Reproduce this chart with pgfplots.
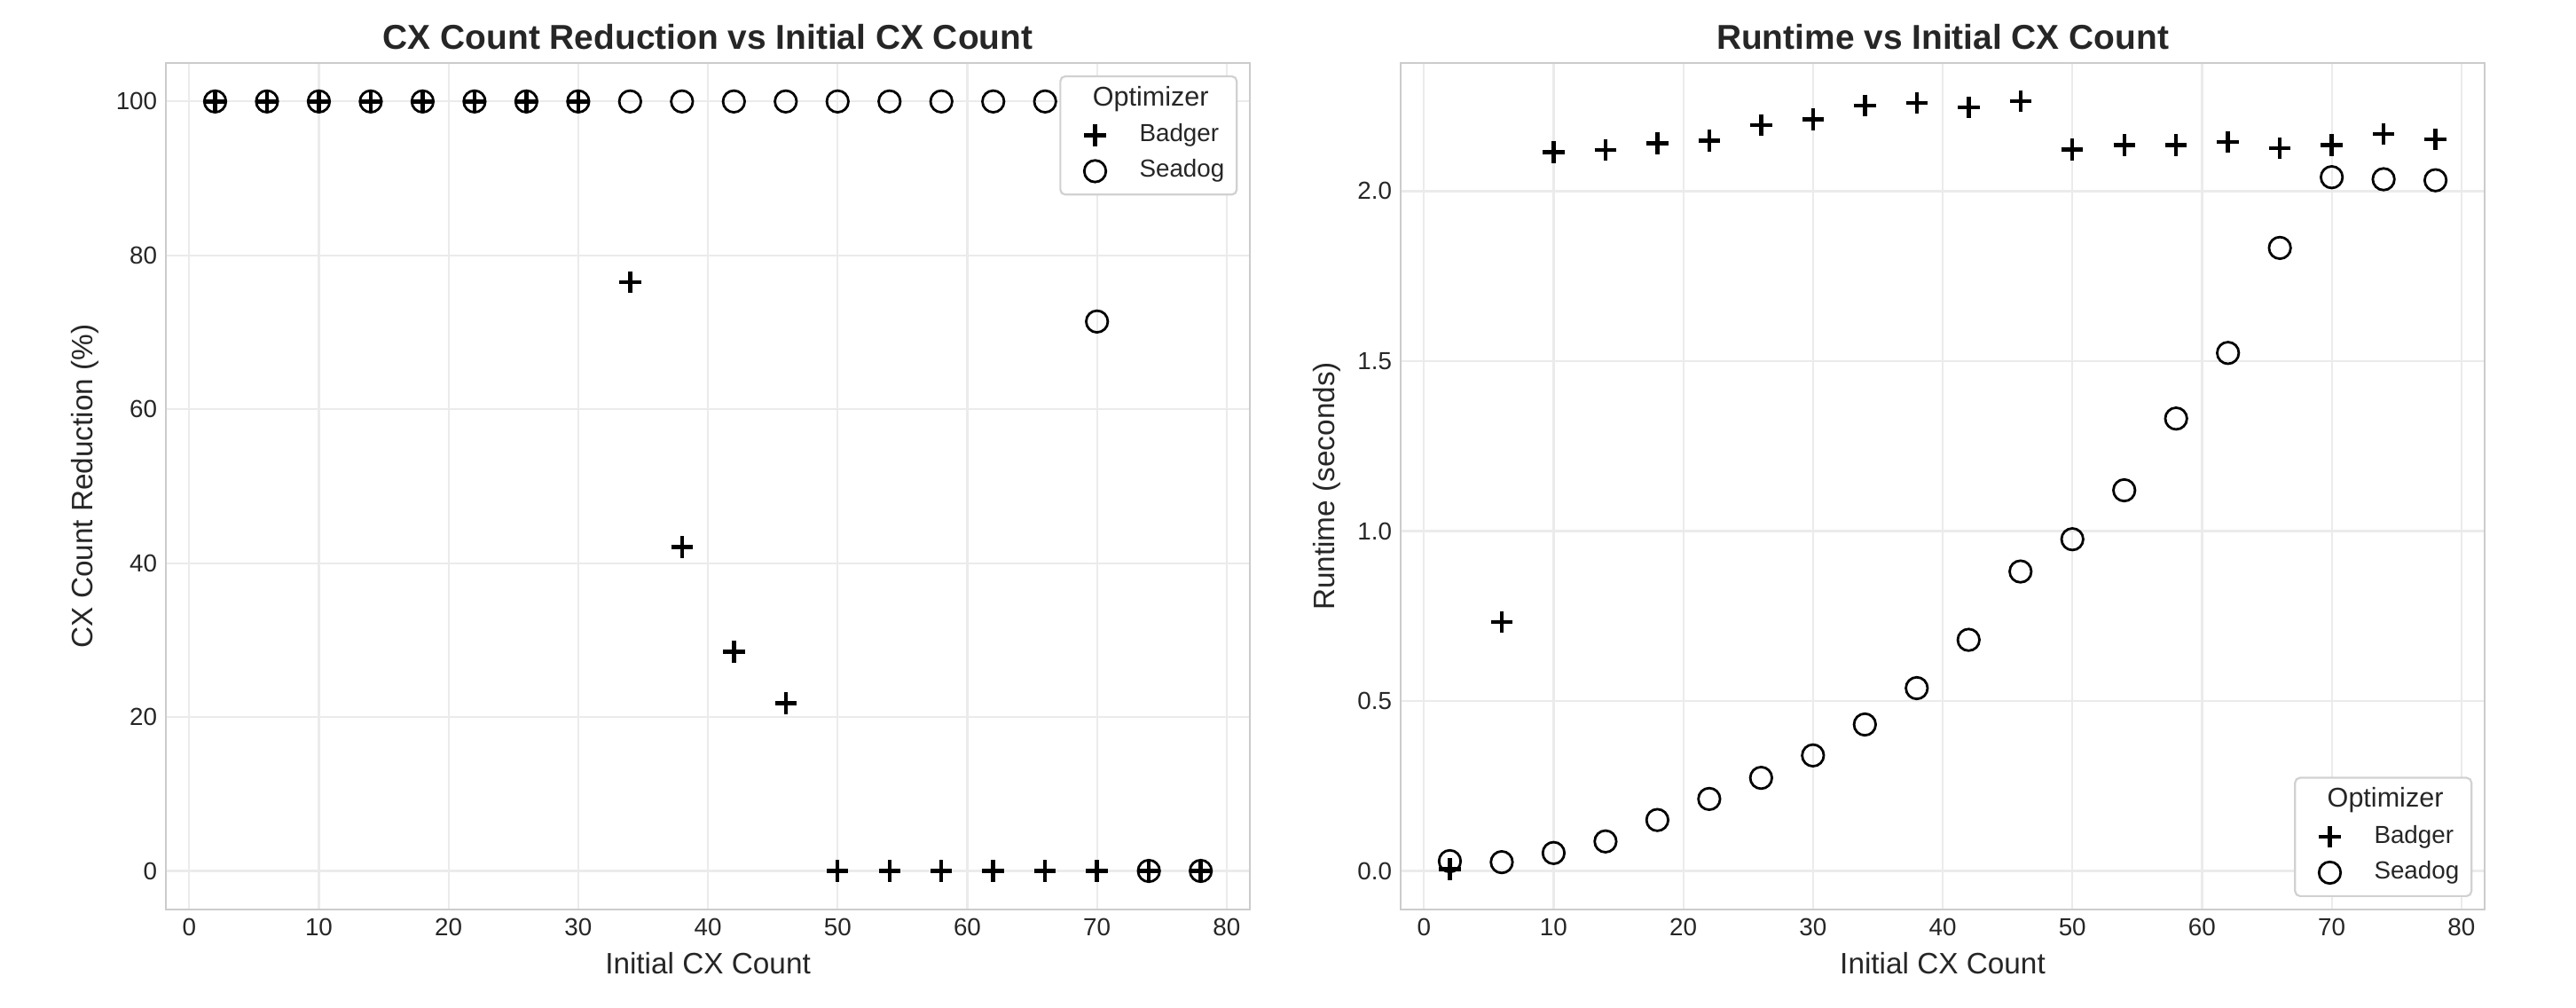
\documentclass[border=0pt]{standalone}
\usepackage{pgfplots}
\pgfplotsset{compat=1.18}
\usepackage{fontspec}
\setmainfont{Liberation Sans}
\definecolor{txt}{HTML}{262626}
\definecolor{gridc}{HTML}{EBEBEB}
\definecolor{framec}{HTML}{CCCCCC}

\pgfplotsset{
  sbstyle/.style={
    width=440pt, height=343.4pt, scale only axis,
    xmin=-1.8, xmax=81.8, xtick={0,10,...,80},
    grid=major, major grid style={gridc, line width=0.8pt},
    axis line style={framec, line width=0.9pt},
    tick style={draw=none},
    ticklabel style={font=\fontsize{10}{12}\selectfont, text=txt},
    label style={font=\fontsize{12}{14}\selectfont, text=txt},
    title style={font=\fontsize{14}{16}\selectfont\bfseries, text=txt, yshift=-4pt},
    /pgf/number format/assume math mode=true,
    xlabel={Initial CX Count},
    legend cell align=left,
    legend style={draw=black!18, line width=0.8pt, rounded corners=2pt,
      font=\fontsize{10}{12}\selectfont, text=txt, fill=white,
      inner xsep=5pt, inner ysep=4.5pt, row sep=4.5pt,
      nodes={inner sep=0pt, text height=7.5pt, text depth=2.5pt}},
    legend image code/.code={\path (0pt,0pt) (25.5pt,0pt); \draw[#1] plot coordinates {(8.3pt,0pt)};},
  },
  badger/.style={only marks, mark=+, mark size=4.4pt, line width=1.6pt, black},
  seadog/.style={only marks, mark=o, mark size=4.4pt, line width=1pt, black},
}

\begin{document}
\begin{tikzpicture}
\path[use as bounding box] (0,0) rectangle (1045.44pt,408.96pt);

%% left panel: reduction
\begin{axis}[sbstyle, at={(67.3pt,40pt)}, anchor=south west,
  ymin=-5, ymax=105, ytick={0,20,...,100},
  title={CX Count Reduction vs Initial CX Count},
  ylabel={CX Count Reduction (\%)},
  legend style={at={(1,1)}, anchor=north east, xshift=-5pt, yshift=-5pt}]
\addlegendimage{empty legend}
\addlegendentry{\hspace*{-19pt}\fontsize{11}{13}\selectfont Optimizer}
\addplot[badger] coordinates {
  (2,100) (6,100) (10,100) (14,100) (18,100) (22,100) (26,100) (30,100)
  (34,76.5) (38,42.1) (42,28.5) (46,21.8) (50,0) (54,0) (58,0) (62,0)
  (66,0) (70,0) (74,0) (78,0)};
\addlegendentry{Badger}
\addplot[seadog] coordinates {
  (2,100) (6,100) (10,100) (14,100) (18,100) (22,100) (26,100) (30,100)
  (34,100) (38,100) (42,100) (46,100) (50,100) (54,100) (58,100) (62,100)
  (66,100) (70,71.4) (74,0) (78,0)};
\addlegendentry{Seadog}
\end{axis}

%% right panel: runtime
\begin{axis}[sbstyle, at={(568.4pt,40pt)}, anchor=south west,
  ymin=-0.113, ymax=2.377, ytick={0,0.5,...,2.0},
  yticklabel style={/pgf/number format/.cd, fixed, fixed zerofill, precision=1},
  title={Runtime vs Initial CX Count},
  ylabel={Runtime (seconds)},
  legend style={at={(1,0)}, anchor=south east, xshift=-5pt, yshift=5pt}]
\addlegendimage{empty legend}
\addlegendentry{\hspace*{-19pt}\fontsize{11}{13}\selectfont Optimizer}
\addplot[badger] coordinates {
  (2,0.005) (6,0.733) (10,2.115) (14,2.121) (18,2.141) (22,2.148) (26,2.194)
  (30,2.211) (34,2.252) (38,2.259) (42,2.246) (46,2.264) (50,2.122) (54,2.136)
  (58,2.135) (62,2.145) (66,2.126) (70,2.136) (74,2.168) (78,2.152)};
\addlegendentry{Badger}
\addplot[seadog] coordinates {
  (2,0.029) (6,0.026) (10,0.053) (14,0.087) (18,0.150) (22,0.212) (26,0.274)
  (30,0.340) (34,0.431) (38,0.538) (42,0.680) (46,0.881) (50,0.976) (54,1.120)
  (58,1.331) (62,1.524) (66,1.833) (70,2.041) (74,2.035) (78,2.032)};
\addlegendentry{Seadog}
\end{axis}
\end{tikzpicture}
\end{document}
